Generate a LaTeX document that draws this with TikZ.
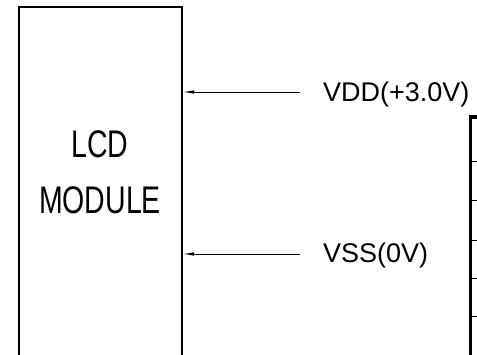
\documentclass[tikz,border=0pt]{standalone}
\usepackage{fontspec}
\setmainfont{Liberation Sans}
\newfontfamily\narrowfont[FakeStretch=0.74]{Liberation Sans}
\usetikzlibrary{arrows.meta}

\begin{document}
\begin{tikzpicture}[x=1pt,y=-1pt]
        \tikzset{pin/.style = {anchor=base west, inner sep=0pt, font=\fontsize{27}{32}\selectfont}}
        \tikzset{edge/.style = {{Latex[length=11pt,width=3.5pt]}-, line width=0.8pt, shorten >=23pt}}
        \useasboundingbox (0,0) rectangle (477,355);
        % module box (open at the bottom)
        \draw[line width=1.3pt] (19,355) |- (182,7) -- (182,355);
        \node[align=center, font=\narrowfont\fontsize{38.5}{56}\selectfont] (lcd) at (100,172) {LCD\\MODULE};
        % supply pins
        \coordinate (vddpin) at (183,92);
        \coordinate (vsspin) at (183,254);
        \node[pin] (vdd) at (323,102) {VDD(+3.0V)};
        \node[pin] (vss) at (323,263) {VSS(0V)};
        %edges
        \draw[edge] (vddpin) -- (vddpin -| vdd.west);
        \draw[edge] (vsspin) -- (vsspin -| vss.west);
        % connector at the right
        \draw[line width=3.5pt] (477,117) -| (470.5,355);
        \foreach \y in {161,200,240,278,316}
            \draw[line width=0.8pt] (470,\y) -- (477,\y);
\end{tikzpicture}
\end{document}
